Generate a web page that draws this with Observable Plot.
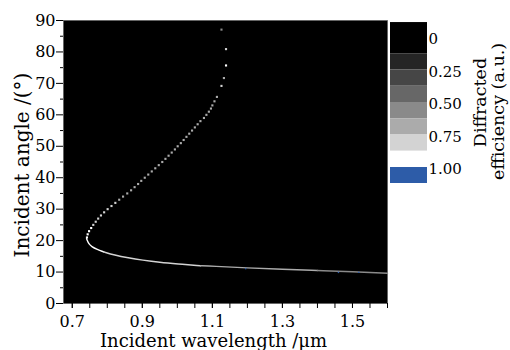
<!DOCTYPE html>
<html><head><meta charset="utf-8">
<script src="https://cdn.jsdelivr.net/npm/d3@7"></script>
<script src="https://cdn.jsdelivr.net/npm/@observablehq/plot@0.6"></script>
<style>
body{margin:0;background:#fff;}
#wrap{position:relative;width:510px;height:350px;background:#fff;overflow:hidden;}
#wrap svg, #wrap svg text{font-family:"DejaVu Serif", serif !important;}
#main{position:absolute;left:0;top:0;}
#legend{position:absolute;left:390px;top:0;}
</style></head><body><div id="wrap"><div id="main"></div><div id="legend"></div></div>
<script>
// Upper branch of the resonance (dotted points)
const upperWavelength = [0.742,0.744,0.748,0.754,0.760,0.767,0.774,0.782,0.791,0.801,0.812,0.823,0.834,0.845,0.857,0.868,0.878,0.888,0.897,0.907,0.917,0.927,0.937,0.947,0.957,0.966,0.975,0.984,0.993,1.001,1.010,1.018,1.026,1.034,1.042,1.050,1.058,1.066,1.076,1.083,1.090,1.096,1.100,1.106,1.113,1.126,1.133,1.139,1.139,1.126];
const upperAngle = [21,22,23,24,25,26,27,28,29,30,31,32,33,34,35,36,37,38,39,40,41,42,43,44,45,46,47,48,49,50,51,52,53,54,55,56,57,58,59,60,61,62,63,64.3,65.7,69.2,71.7,75.7,80.9,87.1];
const upperEfficiency = [0.95,0.95,0.95,0.9,0.85,0.85,0.8,0.8,0.8,0.78,0.78,0.78,0.7,0.7,0.7,0.7,0.7,0.7,0.7,0.7,0.7,0.7,0.7,0.7,0.7,0.7,0.7,0.7,0.7,0.7,0.7,0.7,0.7,0.7,0.7,0.7,0.7,0.7,0.7,0.7,0.7,0.7,0.7,0.7,0.7,0.8,0.7,0.9,0.8,0.6];
// Lower branch (continuous)
const lowerWavelength = [0.741,0.743,0.747,0.755,0.771,0.790,0.820,0.860,0.900,0.950,1.000,1.066,1.100,1.200,1.300,1.400,1.500,1.600];
const lowerAngle = [20.6,20.0,19.0,18.1,17.2,16.4,15.4,14.5,13.8,13.1,12.6,12.0,11.9,11.3,10.9,10.5,10.1,9.6];
const lowerEfficiency = [0.95,0.95,0.95,0.9,0.9,0.85,0.8,0.8,0.8,0.78,0.75,0.7,0.7,0.65,0.65,0.6,0.6,0.6];
// Small peak-efficiency specks
const speckWavelength = [1.195,1.46,1.518];
const speckAngle = [11.1,9.9,9.9];
const speckEfficiency = [1.0,1.0,1.0];

const xTickLabels = [0.7,0.9,1.1,1.3,1.5];
const xMinorTicks = [0.7,0.75,0.8,0.85,0.9,0.95,1.0,1.05,1.1,1.15,1.2,1.25,1.3,1.35,1.4,1.45,1.5,1.55,1.6];
const yTickLabels = [0,10,20,30,40,50,60,70,80,90];
const yMinorTicks = [5,15,25,35,45,55,65,75,85];

const legendThresholds = [0.125,0.25,0.375,0.5,0.625,0.75,0.875,1.0];
const legendColors = ["#000000","#252525","#464646","#676767","#8a8a8a","#ababab","#d3d3d3","#ffffff","#2d5ca8"];
const bandLow =  [-0.115,0.125,0.25,0.375,0.5,0.625,0.75,0.875,1.0];
const bandHigh = [0.125,0.25,0.375,0.5,0.625,0.75,0.875,1.0,1.123];
const legendLabelValues = [0,0.25,0.5,0.75,1.0];
const legendLabels = ["0","0.25","0.50","0.75","1.00"];

const upper = upperWavelength.map((w,i)=>({w, a: upperAngle[i], e: upperEfficiency[i]}));
const lower = lowerWavelength.map((w,i)=>({w, a: lowerAngle[i], e: lowerEfficiency[i]}));
const specks = speckWavelength.map((w,i)=>({w, a: speckAngle[i], e: speckEfficiency[i]}));
const colorScale = {type: "threshold", domain: legendThresholds, range: legendColors};
const font = {fontFamily: "DejaVu Serif", fontSize: "16px", background: "transparent", color: "black"};
const ff = "DejaVu Serif";

const main = Plot.plot({
  width: 390, height: 350,
  marginLeft: 63, marginRight: 3, marginTop: 20, marginBottom: 47,
  style: font,
  x: {domain: [0.675, 1.6]},
  y: {domain: [0, 90]},
  color: colorScale,
  marks: [
    Plot.frame({fill: "black", stroke: "#555", strokeWidth: 0.6}),
    Plot.line(lower, {x: "w", y: "a", stroke: "e", z: null, strokeWidth: 1.4, curve: "basis"}),
    Plot.dot(upper, {x: "w", y: "a", fill: "e", symbol: "square", r: 1.2}),
    Plot.dot(specks, {x: "w", y: "a", fill: "e", symbol: "square", r: 0.8}),
    Plot.axisY({ticks: yMinorTicks, tickSize: 3, tickFormat: () => "", label: null}),
    Plot.axisY({ticks: yTickLabels, tickSize: 7, tickPadding: 1, label: null, fontSize: 16, fontFamily: ff}),
    Plot.axisX({ticks: xMinorTicks, tickSize: 5, tickFormat: () => "", label: null}),
    Plot.axisX({ticks: xTickLabels, tickSize: 5, tickPadding: 7, label: null, fontSize: 16, fontFamily: ff}),
    Plot.text(["Incident wavelength /μm"], {text: d => d, frameAnchor: "bottom", lineAnchor: "middle", textAnchor: "middle", dy: 38, dx: -12, fontSize: 18, fontFamily: ff}),
    Plot.text(["Incident angle /(°)"], {text: d => d, frameAnchor: "left", lineAnchor: "middle", textAnchor: "middle", rotate: -90, dx: -41, dy: 3, fontSize: 20, fontFamily: ff})
  ]
});
document.getElementById("main").append(main);

const bands = bandLow.map((lo,i)=>({lo, hi: bandHigh[i], mid: (lo + bandHigh[i]) / 2}));
const legend = Plot.plot({
  width: 120, height: 200, margin: 0,
  style: font,
  x: {domain: [0, 120], range: [0, 120], axis: null},
  y: {domain: [-0.2846, 1.2538], range: [0, 200], axis: null},
  color: colorScale,
  marks: [
    Plot.rect(bands, {x1: 0, x2: 37, y1: "lo", y2: "hi", fill: "mid"}),
    Plot.text(legendLabelValues, {x: 38, y: d => d + 0.015, text: (d,i) => legendLabels[i], textAnchor: "start", fontSize: 15, fontFamily: ff}),
    Plot.text(["Diffracted"], {text: d => d, x: 90, y: 0.5, rotate: -90, fontSize: 17.5, fontFamily: ff}),
    Plot.text(["efficiency (a.u.)"], {text: d => d, x: 108, y: 0.569, rotate: -90, fontSize: 17.5, fontFamily: ff})
  ]
});
document.getElementById("legend").append(legend);
</script></body></html>
